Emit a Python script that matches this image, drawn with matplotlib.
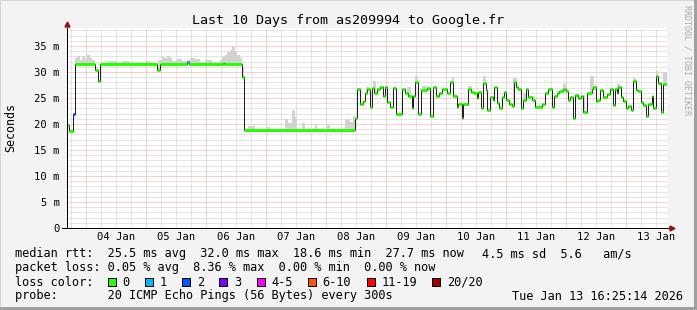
import numpy as np
import pandas as pd
import matplotlib
matplotlib.use("Agg")
import matplotlib.pyplot as plt
from matplotlib.patches import Rectangle

W, H = 697, 310
t0 = pd.Timestamp("2026-01-03 16:25:14")
span_h = 240

# median rtt in ms, as steps: value holds from the given hour (after t0) on
med_hours = [0.0, 0.6, 2.3, 3.1, 11.2, 12.3, 13.1, 36.0, 37.0, 48.0, 48.6, 62.3, 62.8, 70.0, 70.9,
             115.1, 116.1, 117.1, 118.3, 119.3, 120.1, 121.2, 122.0, 122.8, 123.9, 125.2, 126.3,
             127.1, 128.1, 129.2, 130.3, 131.6, 133.9, 135.2, 136.5, 137.9, 138.5, 139.2, 140.5,
             141.5, 144.1, 145.2, 146.5, 147.6, 148.9, 149.9, 152.1, 153.2, 154.5, 155.9, 156.5,
             157.9, 158.5, 160.5, 161.5, 162.8, 163.9, 164.5, 165.5, 166.5, 167.6, 168.1, 169.2,
             170.3, 170.8, 171.9, 172.9, 173.9, 174.8, 175.6, 176.9, 177.9, 178.8, 179.6, 180.5,
             181.5, 182.3, 183.6, 184.5, 185.9, 187.2, 189.9, 191.2, 192.5, 193.9, 194.8, 195.9,
             196.9, 198.5, 199.6, 200.5, 201.2, 202.3, 203.2, 204.5, 205.5, 206.5, 207.9, 209.9,
             210.5, 211.6, 212.5, 213.2, 214.3, 216.1, 217.2, 218.3, 219.2, 219.9, 220.5, 221.5,
             222.5, 223.6, 224.5, 225.5, 226.5, 227.6, 228.5, 229.5, 230.5, 231.6, 232.5, 233.9,
             234.5, 235.6, 236.5, 237.5, 238.5]
med_ms = [19.8, 18.6, 22.0, 31.5, 30.3, 28.2, 31.5, 30.3, 31.5, 31.9, 31.5, 31.8, 31.5, 29.1, 18.8,
          21.1, 26.7, 23.8, 24.4, 26.0, 26.8, 23.2, 27.0, 26.0, 26.8, 27.1, 25.4,
          27.1, 24.2, 23.2, 27.0, 21.9, 26.8, 26.0, 25.4, 23.1, 25.3, 28.1, 22.0,
          26.6, 27.0, 21.5, 27.1, 25.3, 26.0, 26.7, 26.0, 28.1, 25.3, 23.3, 23.8,
          21.1, 23.8, 26.7, 26.2, 26.0, 25.0, 26.2, 23.0, 27.8, 26.5, 22.7, 25.2,
          24.7, 27.1, 24.0, 23.0, 25.2, 26.2, 24.7, 23.8, 23.5, 28.1, 27.1, 26.7,
          23.0, 24.6, 26.7, 25.2, 24.6, 23.2, 23.8, 26.0, 26.7, 23.3, 25.3, 26.0,
          26.4, 26.8, 26.4, 24.6, 25.2, 21.1, 25.6, 25.0, 25.3, 22.4, 26.0, 26.7,
          27.1, 24.5, 24.7, 26.5, 25.2, 25.8, 26.7, 23.6, 26.7, 26.0, 27.1, 25.2,
          24.5, 23.0, 23.5, 22.7, 28.3, 26.5, 26.4, 24.3, 23.6, 21.5, 23.8, 25.3,
          23.0, 29.2, 27.9, 22.4, 27.7]

# steps with lost pings (out of 20)
loss_hours = [2.3, 48.0]
loss_pings = [2, 1]

# upper edge of the smoke (slowest pings), 0 where nothing shows
smoke_hours = [0.0, 3.1, 4.0, 5.0, 6.0, 7.0, 8.0, 9.0, 10.0, 11.0,
               16.0, 18.0, 20.0, 22.0, 25.0, 31.0, 33.0,
               36.5, 38.0, 39.0, 40.0, 41.0, 42.0, 44.0, 46.0, 48.0, 49.0, 51.0, 53.0, 55.0, 58.0, 61.0,
               62.0, 63.0, 64.0, 65.0, 66.0, 67.0, 68.0, 69.0, 70.0, 70.9,
               72.5, 75.0, 80.0, 81.0, 87.0, 88.5, 90.0, 91.0, 92.0, 94.0, 95.0, 99.0, 100.0, 104.0,
               105.0, 111.0, 113.0, 114.5, 115.1,
               119.6, 120.6, 122.5, 123.5, 125.9, 126.9, 135.9, 137.5, 139.2, 140.2, 141.9, 144.0,
               153.9, 154.9, 160.5, 162.0, 166.5, 167.5, 178.5, 180.0, 182.5, 183.5, 185.9, 187.0,
               198.5, 199.5, 205.9, 207.0, 209.2, 210.8, 219.9, 221.0, 226.5, 227.5, 235.6, 236.5, 238.5]
smoke_ms = [0, 32.6, 33.0, 32.4, 33.1, 32.5, 33.2, 32.7, 32.3, 0,
            32.1, 32.2, 31.8, 32.1, 0, 32.1, 0,
            32.4, 32.9, 32.6, 33.1, 32.7, 32.2, 32.5, 32.2, 32.4, 32.7, 32.5, 32.0, 32.3, 31.9, 32.4,
            32.9, 33.3, 33.8, 34.2, 34.9, 33.9, 33.2, 32.6, 30.8, 0,
            19.7, 0, 19.4, 0, 21.0, 20.2, 22.6, 21.3, 0, 20.2, 0, 19.8, 0, 19.9,
            0, 21.0, 20.4, 21.6, 0,
            27.1, 0, 28.3, 0, 27.4, 0, 27.1, 0, 29.3, 0, 27.3, 0,
            29.0, 0, 27.4, 0, 29.2, 0, 28.9, 0, 26.0, 0, 25.4, 0,
            27.6, 0, 25.5, 0, 29.3, 0, 27.6, 0, 28.9, 0, 30.2, 0, 30.0]

loss_labels = ["0", "1", "2", "3", "4-5", "6-10", "11-19", "20/20"]
loss_colors = ["#26ff00", "#00b8ff", "#0059ff", "#7e00ff", "#ff00ff", "#ff5500", "#ff0000", "#a10000"]

title = "Last 10 Days from as209994 to Google.fr"
row_rtt = "median rtt:  25.5 ms avg  32.0 ms max  18.6 ms min  27.7 ms now"
row_rtt_tail = "4.5 ms sd  5.6   am/s"
row_loss = "packet loss: 0.05 % avg  8.36 % max  0.00 % min  0.00 % now"
row_probe = "probe:       20 ICMP Echo Pings (56 Bytes) every 300s"
stamp = "Tue Jan 13 16:25:14 2026"

plt.rcParams["font.family"] = "DejaVu Sans Mono"
plt.rcParams["lines.scale_dashes"] = False
PX = 72 / 100  # one pixel in points
DOTS = (0, (PX, PX))

fig = plt.figure(figsize=(W / 100, H / 100), dpi=100, facecolor="#f3f3f3")
ax = fig.add_axes([67 / W, (H - 228) / H, 600 / W, 200 / H])
ax.set_facecolor("white")
ax.set_xlim(0, span_h)
ax.set_ylim(0, 200 / 5.2)
for s in ax.spines.values():
    s.set_visible(False)


def hrs(ts):
    return (ts - t0) / pd.Timedelta(hours=1)


# grid: gray every 6 h / 1 ms, red at midnight / every 5 ms
for ts in pd.date_range("2026-01-03 18:00", "2026-01-13 12:00", freq="6h"):
    col = "#f0a0a0" if ts.hour == 0 else "#cdcdcd"
    ax.axvline(hrs(ts), color=col, lw=PX, ls=DOTS, snap=True, zorder=1)
for v in range(1, 39):
    col = "#f0a0a0" if v % 5 == 0 else "#cdcdcd"
    ax.axhline(v, color=col, lw=PX, ls=DOTS, snap=True, zorder=1)

# smoke
edges = np.append(np.union1d(med_hours, smoke_hours), span_h)
med_at = np.array(med_ms)[np.searchsorted(med_hours, edges, side="right") - 1]
smoke_at = np.array(smoke_ms)[np.searchsorted(smoke_hours, edges, side="right") - 1]
ax.fill_between(edges, med_at, np.maximum(med_at, smoke_at), step="post",
                color="#d2d2d2", lw=0, zorder=2)

# median line
ax.step(np.append(med_hours, span_h), np.append(med_ms, med_ms[-1]), where="post",
        color="#202020", lw=PX, zorder=3)

# loss coloured band on the median
starts = np.array(med_hours)
ends = np.append(starts[1:], span_h)
cat = np.zeros(len(starts), dtype=int)
for h, n in zip(loss_hours, loss_pings):
    cat[np.isclose(starts, h)] = n if n <= 3 else (4 if n <= 5 else (5 if n <= 10 else (6 if n < 20 else 7)))
ax.hlines(med_ms, starts, ends, colors=[loss_colors[c] for c in cat], lw=3 * PX, zorder=4)

# axes with arrows
ax.plot([0, 0], [0, 1.0], transform=ax.transAxes, color="#000000", lw=PX, clip_on=False, zorder=5)
ax.plot([-0.008, 1.006], [0, 0], transform=ax.transAxes, color="#000000", lw=PX, clip_on=False, zorder=5)
ax.plot([0], [1.02], transform=ax.transAxes, marker="^", ms=5 * PX, color="#9a1010",
        clip_on=False, zorder=6)
ax.plot([1.008], [0], transform=ax.transAxes, marker=">", ms=5 * PX, color="#9a1010",
        clip_on=False, zorder=6)

ax.set_xticks([])
ax.set_yticks(range(0, 36, 5))
ax.set_yticklabels(["0"] + [f"{v} m" for v in range(5, 36, 5)])
ax.tick_params(axis="y", length=0, pad=7 * PX, labelsize=7.6)

for ts in pd.date_range("2026-01-04 12:00", "2026-01-13 12:00", freq="D"):
    ax.text(hrs(ts), -12.5 / 200, ts.strftime("%d Jan"), transform=ax.get_xaxis_transform(),
            ha="center", va="baseline", fontsize=7.6)

fig.text(11 / W, 1 - 128 / H, "Seconds", rotation=90, ha="center", va="center", fontsize=8.4)
fig.text(348 / W, 1 - 24 / H, title, ha="center", va="baseline", fontsize=9.6)
fig.text(687.5 / W, 1 - 5 / H, "RRDTOOL / TOBI OETIKER", rotation=270, ha="center", va="top",
         fontsize=6, color="#aaaaaa")

# legend
fs = 8.55
fig.text(15 / W, 1 - 257.5 / H, row_rtt, va="baseline", fontsize=fs)
fig.text(482 / W, 1 - 257.5 / H, row_rtt_tail, va="baseline", fontsize=fs)
fig.text(15 / W, 1 - 271.5 / H, row_loss, va="baseline", fontsize=fs)
fig.text(15 / W, 1 - 285.5 / H, "loss color:", va="baseline", fontsize=fs)
x = 108
for lab, col in zip(loss_labels, loss_colors):
    fig.add_artist(Rectangle((x / W, 1 - 286 / H), 8 / W, 8 / H, transform=fig.transFigure,
                             facecolor=col, edgecolor="black", lw=PX))
    fig.text((x + 14.5) / W, 1 - 285.5 / H, lab, va="baseline", fontsize=fs)
    x = x + 14.5 + len(lab) * 7.15 + 15.5
fig.text(15 / W, 1 - 299.5 / H, row_probe, va="baseline", fontsize=fs)
fig.text(512 / W, 1 - 299.5 / H, stamp, va="baseline", fontsize=fs)

# frame
fig.add_artist(Rectangle((0, 1 - 1 / H), 1, 1 / H, transform=fig.transFigure, color="#d6d6d6", lw=0))
fig.add_artist(Rectangle((0, 0), 1 / W, 1, transform=fig.transFigure, color="#d6d6d6", lw=0))
fig.add_artist(Rectangle((0, 0), 1, 3 / H, transform=fig.transFigure, color="#a0a0a0", lw=0))
fig.add_artist(Rectangle((1 - 3 / W, 0), 3 / W, 1, transform=fig.transFigure, color="#a0a0a0", lw=0))

fig.savefig("out.png", dpi=100, facecolor=fig.get_facecolor())
